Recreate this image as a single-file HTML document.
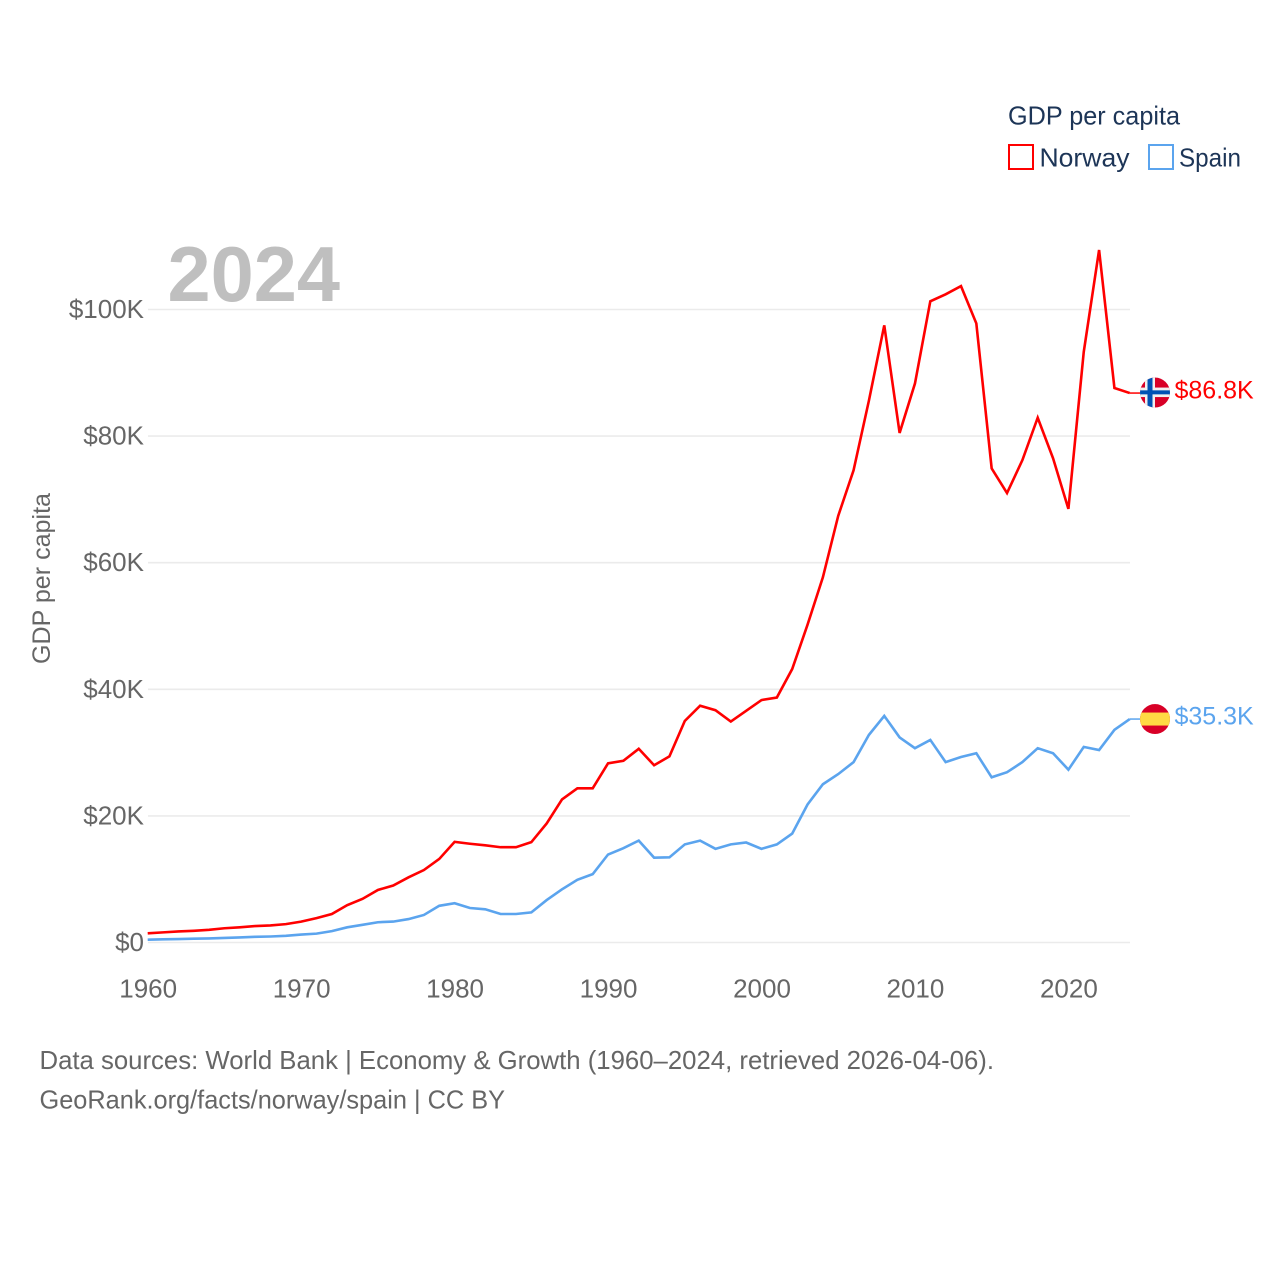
<!DOCTYPE html>
<html lang="en">
<head>
<meta charset="utf-8">
<title>GDP per capita: Norway and Spain</title>
<style>
html,body{margin:0;padding:0;background:#fff;}
svg{display:block;font-family:"Liberation Sans",Arial,sans-serif;}
</style>
</head>
<body>
<svg id="chart" xmlns="http://www.w3.org/2000/svg" width="1280" height="1280" viewBox="0 0 1280 1280">
  <defs>
    <clipPath id="flag-clip-no"><circle cx="0" cy="0" r="15"/></clipPath>
    <clipPath id="flag-clip-es"><circle cx="0" cy="0" r="15"/></clipPath>
  </defs>
  <rect width="1280" height="1280" fill="#fff"/>
  <g id="grid"></g>
  <g id="yticks"></g>
  <g id="xticks"></g>
  <g id="lines"></g>
  <text id="yearLabel" x="167.5" y="301" font-size="78" font-weight="700" fill="#bfbfbf" textLength="172.5" lengthAdjust="spacingAndGlyphs"></text>
  <text transform="translate(50,578.5) rotate(-90)" text-anchor="middle" font-size="25" fill="#666" textLength="171" lengthAdjust="spacingAndGlyphs">GDP per capita</text>
  <g>
    <text x="1008" y="124.5" font-size="26" fill="#1d3557" textLength="172" lengthAdjust="spacingAndGlyphs">GDP per capita</text>
    <rect x="1009" y="145" width="24" height="24" fill="none" stroke="#ff0000" stroke-width="2"/>
    <text x="1039.5" y="166.5" font-size="26" fill="#1d3557" textLength="90" lengthAdjust="spacingAndGlyphs">Norway</text>
    <rect x="1149" y="145" width="24" height="24" fill="none" stroke="#5ba4ee" stroke-width="2"/>
    <text x="1179" y="166.5" font-size="26" fill="#1d3557" textLength="62" lengthAdjust="spacingAndGlyphs">Spain</text>
  </g>
  <g id="flagNorway">
    <g clip-path="url(#flag-clip-no)">
      <rect x="-15" y="-15" width="30" height="30" fill="#d80027"/>
      <rect x="-10" y="-15" width="10" height="30" fill="#f0f0f0"/>
      <rect x="-15" y="-5" width="30" height="9.5" fill="#f0f0f0"/>
      <rect x="-7.5" y="-15" width="5" height="30" fill="#0052b4"/>
      <rect x="-15" y="-2.2" width="30" height="4" fill="#0052b4"/>
    </g>
  </g>
  <g id="flagSpain">
    <g clip-path="url(#flag-clip-es)">
      <rect x="-15" y="-15" width="30" height="30" fill="#d80027"/>
      <rect x="-15" y="-6.5" width="30" height="13" fill="#ffda44"/>
    </g>
  </g>
  <text id="endNorway" x="1174.5" font-size="25" fill="#ff0000"></text>
  <text id="endSpain" x="1174.5" font-size="25" fill="#5ba4ee"></text>
  <text x="39.5" y="1069" font-size="26" fill="#666" textLength="954.5" lengthAdjust="spacingAndGlyphs">Data sources: World Bank | Economy &amp; Growth (1960–2024, retrieved 2026-04-06).</text>
  <text x="39.5" y="1108.5" font-size="26" fill="#666" textLength="465.5" lengthAdjust="spacingAndGlyphs">GeoRank.org/facts/norway/spain | CC BY</text>
</svg>
<script>
const firstYear = 1960;
const xTickYears = [1960, 1970, 1980, 1990, 2000, 2010, 2020];
const yTickValues = [0, 20, 40, 60, 80, 100];
const yTickLabels = ["$0", "$20K", "$40K", "$60K", "$80K", "$100K"];
const currentYearLabel = "2024";
const norwayEndLabel = "$86.8K";
const spainEndLabel = "$35.3K";
const norwayValues = [
  1.45, 1.6, 1.75, 1.85, 2.0, 2.25, 2.4, 2.6, 2.7, 2.9,
  3.3, 3.85, 4.5, 5.9, 6.9, 8.3, 9.0, 10.3, 11.45, 13.2,
  15.9, 15.6, 15.35, 15.05, 15.05, 15.85, 18.8, 22.6, 24.35, 24.35,
  28.3, 28.7, 30.6, 28.0, 29.4, 35.0, 37.4, 36.7, 34.9, 36.6,
  38.3, 38.7, 43.2, 50.2, 57.7, 67.4, 74.6, 85.6, 97.5, 80.5,
  88.3, 101.3, 102.4, 103.7, 97.8, 74.9, 71.0, 76.2, 82.9, 76.5,
  68.5, 93.3, 109.4, 87.6, 86.8
];
const spainValues = [
  0.45, 0.5, 0.55, 0.6, 0.65, 0.72, 0.8, 0.9, 0.95, 1.05,
  1.25, 1.4, 1.8, 2.4, 2.8, 3.2, 3.3, 3.7, 4.35, 5.8,
  6.2, 5.45, 5.25, 4.5, 4.5, 4.75, 6.7, 8.4, 9.9, 10.8,
  13.9, 14.9, 16.1, 13.4, 13.45, 15.5, 16.1, 14.8, 15.5, 15.8,
  14.8, 15.5, 17.2, 21.8, 25.0, 26.6, 28.5, 32.8, 35.8, 32.4,
  30.7, 32.0, 28.5, 29.3, 29.9, 26.1, 26.9, 28.5, 30.7, 29.9,
  27.3, 30.9, 30.4, 33.6, 35.3
];

const svgNS = "http://www.w3.org/2000/svg";
function xScale(year) { return 147.7 + (year - 1960) * 15.345; }
function yScale(value) { return 942.5 - value * 6.33; }

function make(tag, attrs, parent, text) {
  const el = document.createElementNS(svgNS, tag);
  for (const k in attrs) el.setAttribute(k, attrs[k]);
  if (text !== undefined) el.textContent = text;
  parent.appendChild(el);
  return el;
}

const grid = document.getElementById("grid");
const yticks = document.getElementById("yticks");
const xticks = document.getElementById("xticks");
const lines = document.getElementById("lines");

yTickValues.forEach(function (v, i) {
  const line = make("line", {x1: 148, x2: 1130, y1: yScale(v), y2: yScale(v), stroke: "#ebebeb", "stroke-width": 1.6}, grid);
  
  
  const label = make("text", {x: 144, y: yScale(v) + 8.5, "text-anchor": "end", "font-size": 26, fill: "#666"}, yticks, yTickLabels[i]);
  
  
});

xTickYears.forEach(function (year) {
  const label = make("text", {x: xScale(year) + 0.5, y: 997.5, "text-anchor": "middle", "font-size": 26, fill: "#666"}, xticks, String(year));
  
  
});

function pathFor(values) {
  return values.map(function (v, i) {
    return (i ? "L" : "M") + xScale(firstYear + i).toFixed(2) + " " + yScale(v).toFixed(2);
  }).join(" ");
}

const spainLine = make("path", {d: pathFor(spainValues), fill: "none", stroke: "#5ba4ee", "stroke-width": 2.6, "stroke-linejoin": "miter"}, lines);


const norwayLine = make("path", {d: pathFor(norwayValues), fill: "none", stroke: "#ff0000", "stroke-width": 2.6, "stroke-linejoin": "miter"}, lines);



const lastIndex = norwayValues.length - 1;
const lastX = xScale(firstYear + lastIndex);
const norwayY = yScale(norwayValues[lastIndex]);
const spainY = yScale(spainValues[lastIndex]);

const norwayConnector = make("line", {x1: lastX, x2: 1140, y1: norwayY, y2: norwayY, stroke: "#ff0000", "stroke-width": 1.5}, lines);


const spainConnector = make("line", {x1: lastX, x2: 1140, y1: spainY, y2: spainY, stroke: "#5ba4ee", "stroke-width": 1.5}, lines);



document.getElementById("flagNorway").setAttribute("transform", "translate(1155," + (norwayY - 0.5) + ")");
document.getElementById("flagSpain").setAttribute("transform", "translate(1155," + spainY + ")");

const endNorway = document.getElementById("endNorway");
endNorway.setAttribute("y", norwayY + 5.5);
endNorway.textContent = norwayEndLabel;
const endSpain = document.getElementById("endSpain");
endSpain.setAttribute("y", spainY + 5.5);
endSpain.textContent = spainEndLabel;
document.getElementById("yearLabel").textContent = currentYearLabel;
</script>
</body>
</html>
